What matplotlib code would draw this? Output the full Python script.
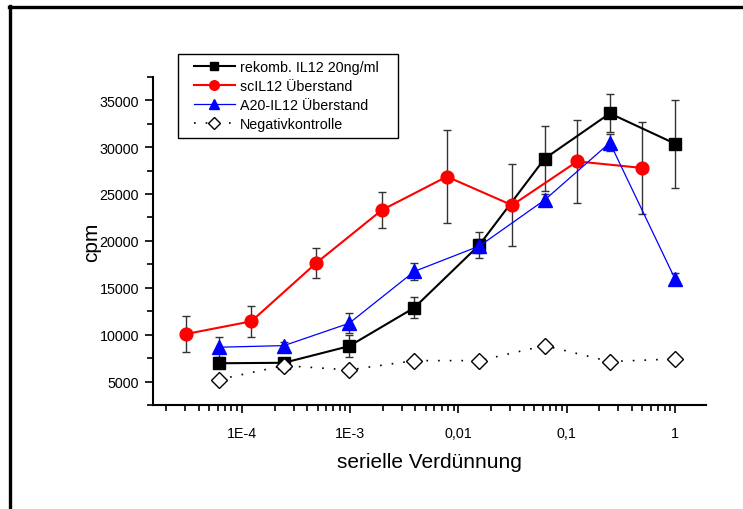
import numpy as np
import matplotlib
matplotlib.use("Agg")
import matplotlib.pyplot as plt
from matplotlib.lines import Line2D
from matplotlib.patches import Rectangle
from matplotlib.ticker import FixedLocator, FixedFormatter, LogLocator, NullFormatter, MultipleLocator

plt.rcParams['font.family'] = ['Liberation Sans', 'DejaVu Sans']

# dilution steps (4-fold series)
x_std = [1/16384, 1/4096, 1/1024, 1/256, 1/64, 1/16, 1/4, 1]
x_sc = [1/32768, 1/8192, 1/2048, 1/512, 1/128, 1/32, 1/8, 1/2]

rekomb = [6950, 7000, 8770, 12870, 19580, 28770, 33590, 30360]
rekomb_err = [250, 250, 1200, 1100, 1360, 3470, 2020, 4680]

scil12 = [10070, 11420, 17660, 23270, 26850, 23800, 28470, 27770]
scil12_err = [1900, 1630, 1600, 1900, 4920, 4400, 4400, 4930]

a20 = [8660, 8830, 11210, 16740, 19450, 24360, 30460, 15930]
a20_err = [1060, 360, 1060, 900, 700, 670, 890, 640]

neg = [5210, 6700, 6240, 7230, 7230, 8830, 7130, 7410]

xtick_vals = [1e-4, 1e-3, 1e-2, 1e-1, 1]
xtick_labels = ["1E-4", "1E-3", "0,01", "0,1", "1"]

fig = plt.figure(figsize=(7.43, 5.10), dpi=100)
ax = fig.add_axes([153/743, 1 - 406/510, (706 - 153)/743, (406 - 77.7)/510])

ekw = dict(ecolor='#333333', elinewidth=1.0, capsize=3.1, capthick=1.0)

ax.errorbar(x_std, rekomb, yerr=rekomb_err, fmt='none', zorder=2, **ekw)
ax.errorbar(x_sc, scil12, yerr=scil12_err, fmt='none', zorder=2, **ekw)
ax.errorbar(x_std, a20, yerr=a20_err, fmt='none', zorder=2, **ekw)

ax.plot(x_std, rekomb, color='black', lw=1.5, marker='s', ms=8.2,
        mfc='black', mec='black', label="rekomb. IL12 20ng/ml", zorder=3)
ax.plot(x_sc, scil12, color='red', lw=1.5, marker='o', ms=9.2,
        mfc='red', mec='red', label="scIL12 Überstand", zorder=3)
ax.plot(x_std, a20, color='blue', lw=0.9, marker='^', ms=10,
        mfc='blue', mec='blue', label="A20-IL12 Überstand", zorder=3)
ax.plot(x_std, neg, color='black', lw=1.2, ls=(0, (1, 6)), marker='D', ms=8.5,
        mfc='white', mec='black', mew=1.0, label="Negativkontrolle", zorder=3)

ax.set_xscale('log')
ax.set_xlim(1.51e-5, 1.93)
ax.set_ylim(2500, 37500)

ax.xaxis.set_major_locator(FixedLocator(xtick_vals))
ax.xaxis.set_major_formatter(FixedFormatter(xtick_labels))
ax.xaxis.set_minor_locator(LogLocator(base=10, subs=np.arange(2, 10), numticks=20))
ax.xaxis.set_minor_formatter(NullFormatter())

ax.yaxis.set_major_locator(FixedLocator([5000, 10000, 15000, 20000, 25000, 30000, 35000]))
ax.yaxis.set_minor_locator(MultipleLocator(2500))

ax.tick_params(which='major', direction='out', length=6, width=1.2, labelsize=10.3)
ax.tick_params(which='minor', direction='out', length=4, width=1.2)
ax.tick_params(axis='y', pad=4)
ax.tick_params(axis='x', pad=9)

for s in ['top', 'right']:
    ax.spines[s].set_visible(False)
for s in ['left', 'bottom']:
    ax.spines[s].set_linewidth(1.5)

ax.set_xlabel("serielle Verdünnung", fontsize=15, labelpad=9)
ax.set_ylabel("cpm", fontsize=15, labelpad=-1)

# legend box drawn separately so the padding matches
fig.add_artist(Rectangle((178/743, 1 - 139/510), 220/743, 84/510,
                         transform=fig.transFigure, fill=False,
                         edgecolor='black', lw=1.0))
leg = ax.legend(loc='upper left', bbox_to_anchor=(194/743, 1 - 61/510),
                bbox_transform=fig.transFigure, fontsize=10.3, frameon=False,
                handlelength=2.85, borderpad=0, borderaxespad=0,
                labelspacing=0.36, handletextpad=0.35, markerscale=0.75)

# outer frame (top and left edges only)
fig.add_artist(Line2D([9/743, 1.0], [1 - 8/510, 1 - 8/510], transform=fig.transFigure,
                      color='black', lw=2.4))
fig.add_artist(Line2D([10/743, 10/743], [1 - 7/510, 0.0], transform=fig.transFigure,
                      color='black', lw=2.4))

fig.savefig("out.png", dpi=100)
